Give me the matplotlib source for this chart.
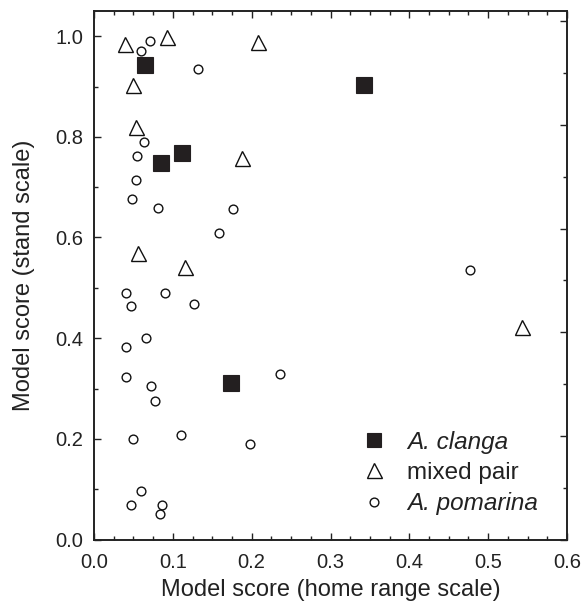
import matplotlib
matplotlib.use("Agg")
import matplotlib.pyplot as plt
from matplotlib.ticker import MultipleLocator, FormatStrFormatter

plt.rcParams['font.family'] = ['Liberation Sans', 'DejaVu Sans']

# Model scores: home range scale (x) vs stand scale (y)
clanga_x = [0.065, 0.343, 0.112, 0.085, 0.174]
clanga_y = [0.943, 0.903, 0.767, 0.749, 0.310]

mixed_x = [0.039, 0.093, 0.208, 0.049, 0.053, 0.188, 0.056, 0.116, 0.543]
mixed_y = [0.985, 0.999, 0.988, 0.903, 0.820, 0.757, 0.570, 0.542, 0.422]

pomarina_x = [0.071, 0.059, 0.132, 0.064, 0.055, 0.053, 0.048, 0.081, 0.176,
              0.158, 0.040, 0.090, 0.047, 0.127, 0.066, 0.040, 0.040, 0.072,
              0.078, 0.236, 0.110, 0.050, 0.198, 0.059, 0.047, 0.086, 0.084,
              0.477]
pomarina_y = [0.991, 0.970, 0.935, 0.790, 0.761, 0.714, 0.677, 0.658, 0.656,
              0.608, 0.489, 0.489, 0.463, 0.468, 0.401, 0.382, 0.323, 0.304,
              0.275, 0.328, 0.208, 0.200, 0.190, 0.096, 0.069, 0.069, 0.050,
              0.535]

labels = ["A. clanga", "mixed pair", "A. pomarina"]

INK = '#222222'

fig = plt.figure(figsize=(5.82, 6.04), dpi=100)
ax = fig.add_axes([94 / 582, 1 - 539.5 / 604, 473 / 582, 528.5 / 604])

ax.plot(clanga_x, clanga_y, ls='none', marker='s', ms=12, mfc='#231f20',
        mec='#231f20', mew=0.8, label=labels[0], zorder=3)
ax.plot(mixed_x, mixed_y, ls='none', marker='^', ms=10.8, mfc='white',
        mec='#111111', mew=1.0, label=labels[1], zorder=3)
ax.plot(pomarina_x, pomarina_y, ls='none', marker='o', ms=6.3, mfc='white',
        mec='#111111', mew=1.0, label=labels[2], zorder=3)

ax.set_xlim(0, 0.6)
ax.set_ylim(0, 1.05)
ax.xaxis.set_major_locator(MultipleLocator(0.1))
ax.xaxis.set_minor_locator(MultipleLocator(0.025))
ax.yaxis.set_major_locator(MultipleLocator(0.2))
ax.yaxis.set_minor_locator(MultipleLocator(0.1))
ax.xaxis.set_major_formatter(FormatStrFormatter('%.1f'))
ax.yaxis.set_major_formatter(FormatStrFormatter('%.1f'))

ax.tick_params(which='both', direction='in', top=True, right=False,
               color=INK, width=1.0)
ax.tick_params(which='major', length=5, labelsize=14.5, colors=INK)
ax.tick_params(which='minor', length=3)
ax.tick_params(axis='x', which='major', pad=10)
ax.tick_params(axis='y', which='major', pad=8)

# right-hand frame ticks
ax_r = ax.twinx()
ax_r.set_ylim(0, 1.02)
ax_r.yaxis.set_major_locator(MultipleLocator(0.2))
ax_r.yaxis.set_minor_locator(MultipleLocator(0.1))
ax_r.tick_params(which='both', direction='in', labelright=False,
                 color=INK, width=1.0)
ax_r.tick_params(which='major', length=5)
ax_r.tick_params(which='minor', length=3)

for a in (ax, ax_r):
    for s in a.spines.values():
        s.set_linewidth(1.2)
        s.set_color(INK)

ax.set_xlabel("Model score (home range scale)", fontsize=17, color=INK)
ax.set_ylabel("Model score (stand scale)", fontsize=17, color=INK)
ax.xaxis.set_label_coords(0.5, -0.074)
ax.yaxis.set_label_coords(-0.125, 0.5)

leg = ax.legend(loc='lower left', bbox_to_anchor=(0.567, 0.046), frameon=False,
                fontsize=17.5, handlelength=1.0, handletextpad=0.85,
                labelspacing=0.34, borderaxespad=0.0, borderpad=0.0)
leg.legend_handles[0].set_markersize(10.5)
for txt in leg.get_texts():
    if txt.get_text().startswith("A."):
        txt.set_fontstyle('italic')
    txt.set_color(INK)

fig.savefig("out.png", dpi=100)
